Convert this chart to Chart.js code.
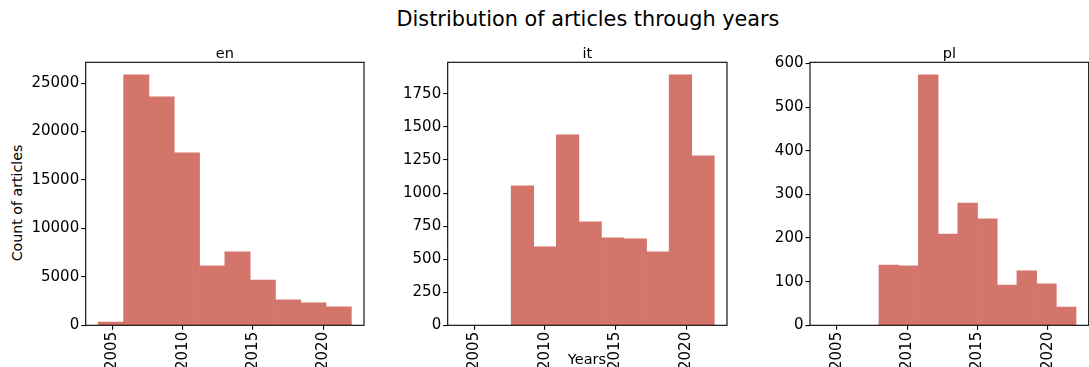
<!DOCTYPE html>
<html>
<head>
<meta charset="utf-8">
<script src="https://cdn.jsdelivr.net/npm/chart.js@4"></script>
<style>
  html, body { margin: 0; padding: 0; }
  body { width: 1089px; height: 367px; overflow: hidden; background: #fff; position: relative; }
  canvas { position: absolute; top: 0; }
  .lbl { position: absolute; color: #000; white-space: nowrap; font-family: "DejaVu Sans", sans-serif; line-height: 1; }
  #suptitle { left: 588px; top: 18.5px; font-size: 20.8px; transform: translate(-50%, -50%); }
  #xlabel { left: 587px; top: 358.5px; font-size: 14.5px; transform: translate(-50%, -50%); z-index: 5; }
  #ylabel { left: 17px; top: 203px; font-size: 14.2px; transform: translate(-50%, -50%) rotate(-90deg); }
</style>
</head>
<body>
<div class="lbl" id="suptitle">Distribution of articles through years</div>
<div class="lbl" id="ylabel">Count of articles</div>
<div class="lbl" id="xlabel">Years</div>
<canvas id="c-en"></canvas>
<canvas id="c-it"></canvas>
<canvas id="c-pl"></canvas>
<script>
// Histogram bin edges (years) and article counts per language
const enEdges = [2004, 2005.8, 2007.6, 2009.4, 2011.2, 2013, 2014.8, 2016.6, 2018.4, 2020.2, 2022];
const enCounts = [345, 25860, 23590, 17800, 6130, 7580, 4680, 2620, 2310, 1895];

const itEdges = [2006, 2007.6, 2009.2, 2010.8, 2012.4, 2014, 2015.6, 2017.2, 2018.8, 2020.4, 2022];
const itCounts = [0, 1054, 593, 1440, 782, 661, 653, 555, 1894, 1281];

const plEdges = [2008, 2009.4, 2010.8, 2012.2, 2013.6, 2015, 2016.4, 2017.8, 2019.2, 2020.6, 2022];
const plCounts = [138, 136, 574, 209, 280, 244, 92, 125, 95, 42];

// Tick labels
const yearTicks = [2005, 2010, 2015, 2020];
const enYTicks = [0, 5000, 10000, 15000, 20000, 25000];
const itYTicks = [0, 250, 500, 750, 1000, 1250, 1500, 1750];
const plYTicks = [0, 100, 200, 300, 400, 500, 600];

// Shared x range (all panels share the year axis)
const X_MIN = 2003.1, X_MAX = 2022.9;

const BAR_COLOR = 'rgb(212, 117, 107)';
const FONT = { family: '"DejaVu Sans", sans-serif', size: 15 };
const CANVAS_H = 400;
const AX_TOP = 62.3, AX_BOTTOM = 325.3;

const panels = [
  { id: 'c-en', title: 'en', edges: enEdges, counts: enCounts, yTicks: enYTicks, canvasLeft: 0,   axLeft: 85.7,  axWidth: 278.3, canvasW: 370 },
  { id: 'c-it', title: 'it', edges: itEdges, counts: itCounts, yTicks: itYTicks, canvasLeft: 370, axLeft: 447.7, axWidth: 279.3, canvasW: 363 },
  { id: 'c-pl', title: 'pl', edges: plEdges, counts: plCounts, yTicks: plYTicks, canvasLeft: 733, axLeft: 810,   axWidth: 278.7, canvasW: 362 }
];

// Axes frame and panel title
const framePlugin = {
  id: 'frame',
  afterDraw(chart, args, opts) {
    const { ctx, chartArea: a } = chart;
    ctx.save();
    ctx.strokeStyle = '#000';
    ctx.lineWidth = 1.1;
    ctx.strokeRect(a.left, a.top, a.right - a.left, a.bottom - a.top);
    ctx.fillStyle = '#000';
    ctx.font = '14.5px "DejaVu Sans", sans-serif';
    ctx.textAlign = 'center';
    ctx.textBaseline = 'alphabetic';
    ctx.fillText(opts.text, (a.left + a.right) / 2, a.top - 4.5);
    ctx.restore();
  }
};

panels.forEach(p => {
  const canvas = document.getElementById(p.id);
  canvas.width = p.canvasW;
  canvas.height = CANVAS_H;
  canvas.style.left = p.canvasLeft + 'px';
  canvas.style.width = p.canvasW + 'px';
  canvas.style.height = CANVAS_H + 'px';

  const yAxisW = p.axLeft - p.canvasLeft;
  const padRight = p.canvasW - yAxisW - p.axWidth;
  const xAxisH = CANVAS_H - AX_BOTTOM;

  const points = p.counts.map((c, i) => ({ x: (p.edges[i] + p.edges[i + 1]) / 2, y: c }));
  const yMax = Math.max(...p.counts) * 1.05;

  new Chart(canvas, {
    type: 'bar',
    data: {
      datasets: [{
        data: points,
        backgroundColor: BAR_COLOR,
        borderWidth: 0,
        barPercentage: 1,
        categoryPercentage: 1,
        grouped: false
      }]
    },
    options: {
      responsive: false,
      maintainAspectRatio: false,
      devicePixelRatio: 1,
      animation: false,
      layout: { padding: { top: AX_TOP, right: padRight, left: 0, bottom: 0 } },
      plugins: {
        legend: { display: false },
        tooltip: { enabled: false },
        frame: { text: p.title }
      },
      scales: {
        x: {
          type: 'linear',
          min: X_MIN,
          max: X_MAX,
          offset: false,
          afterBuildTicks: s => { s.ticks = yearTicks.map(v => ({ value: v })); },
          afterFit: s => { s.height = xAxisH; },
          grid: { display: true, offset: false, drawOnChartArea: false, drawTicks: true, tickLength: 4.5, color: '#000', lineWidth: 1.1 },
          border: { display: false },
          ticks: {
            autoSkip: false, maxRotation: 90, minRotation: 90,
            color: '#000', font: FONT, padding: 2,
            callback: v => String(v)
          }
        },
        y: {
          type: 'linear',
          min: 0,
          max: yMax,
          afterBuildTicks: s => { s.ticks = p.yTicks.map(v => ({ value: v })); },
          afterFit: s => { s.width = yAxisW; },
          grid: { display: true, offset: false, drawOnChartArea: false, drawTicks: true, tickLength: 4.5, color: '#000', lineWidth: 1.1 },
          border: { display: false },
          ticks: { color: '#000', font: FONT, padding: 2, callback: v => String(v) }
        }
      }
    },
    plugins: [framePlugin]
  });
});
</script>
</body>
</html>
